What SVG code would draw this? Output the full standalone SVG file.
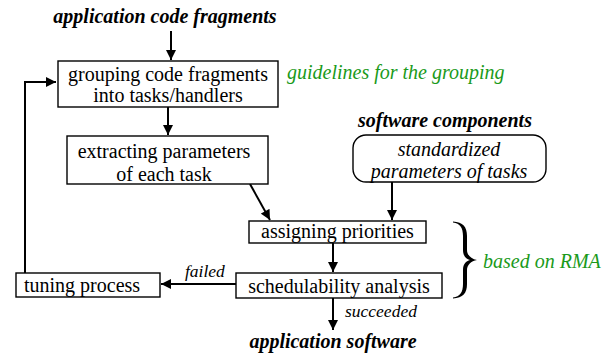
<svg xmlns="http://www.w3.org/2000/svg" width="615" height="361" viewBox="0 0 615 361" font-family="'Liberation Serif', 'Times New Roman', serif">
<style>
  text { font-family: 'Liberation Serif', 'Times New Roman', serif; fill: #000; }
  .n { font-size: 20px; }
  .bi { font-size: 20px; font-weight: bold; font-style: italic; }
  .it { font-size: 20px; font-style: italic; }
  .sm { font-size: 17.5px; font-style: italic; }
  .g { fill: #1a9a1a; }
  .box { fill: #fff; stroke: #000; stroke-width: 1.4; }
  .ln { fill: none; stroke: #000; stroke-width: 2; }
  .c { text-anchor: middle; }
</style>
<defs>
  <marker id="ah" viewBox="0 0 10 10" refX="10" refY="5" markerWidth="5.5" markerHeight="5" markerUnits="strokeWidth" orient="auto">
    <path d="M0,0 L10,5 L0,10 Z" fill="#000"/>
  </marker>
</defs>
<rect width="615" height="361" fill="#fff"/>

<g id="labels">
  <text class="bi c" x="165" y="23">application code fragments</text>
  <text class="it g" x="287" y="79">guidelines for the grouping</text>
  <text class="bi c" x="445" y="127">software components</text>
  <text class="it g" x="483" y="268">based on RMA</text>
  <text class="bi c" x="333" y="348">application software</text>
  <text class="sm" x="185" y="277">failed</text>
  <text class="sm" x="345" y="317">succeeded</text>
</g>

<g id="connectors">
  <line class="ln" x1="171" y1="31" x2="171" y2="60" marker-end="url(#ah)"/>
  <line class="ln" x1="168" y1="107" x2="168" y2="135" marker-end="url(#ah)"/>
  <line class="ln" x1="250" y1="184" x2="270" y2="220" marker-end="url(#ah)"/>
  <line class="ln" x1="392" y1="182" x2="392" y2="220" marker-end="url(#ah)"/>
  <line class="ln" x1="333" y1="243" x2="333" y2="272" marker-end="url(#ah)"/>
  <line class="ln" x1="236" y1="284" x2="161" y2="284" marker-end="url(#ah)"/>
  <line class="ln" x1="333" y1="298" x2="333" y2="330" marker-end="url(#ah)"/>
  <polyline class="ln" points="25,273 25,82 56,82" marker-end="url(#ah)"/>
</g>

<g id="grouping">
  <rect class="box" x="58" y="61" width="220" height="46"/>
  <text class="n c" x="168" y="81">grouping code fragments</text>
  <text class="n c" x="168" y="102">into tasks/handlers</text>
</g>

<g id="extracting">
  <rect class="box" x="67" y="136" width="201" height="48"/>
  <text class="n c" x="164" y="158">extracting parameters</text>
  <text class="n c" x="164" y="181">of each task</text>
</g>

<g id="standardized">
  <rect class="box" x="353" y="135" width="193" height="47" rx="13" ry="13"/>
  <text class="it c" x="449" y="156">standardized</text>
  <text class="it c" x="449" y="178">parameters of tasks</text>
</g>

<g id="assigning">
  <rect class="box" x="249" y="221" width="177" height="22"/>
  <text class="n c" x="337.5" y="238">assigning priorities</text>
</g>

<g id="schedulability">
  <rect class="box" x="236" y="273" width="206" height="25"/>
  <text class="n c" x="339" y="293">schedulability analysis</text>
</g>

<g id="tuning">
  <rect class="box" x="16" y="273" width="144" height="24"/>
  <text class="n" x="24" y="292">tuning process</text>
</g>

<g id="brace">
  <path d="M453,221.5 C463,222 467,227 467,236 L467,250 C467,255 471,259 477,260 C471,261 467,265 467,270 L467,284 C467,293 463,298 453,298.5 L453,297.5 C460,297 463,292 463,284 L463,270 C463,264 466,261 470,260 C466,259 463,256 463,250 L463,236 C463,228 460,223 453,222.5 Z" fill="#000"/>
</g>
</svg>
